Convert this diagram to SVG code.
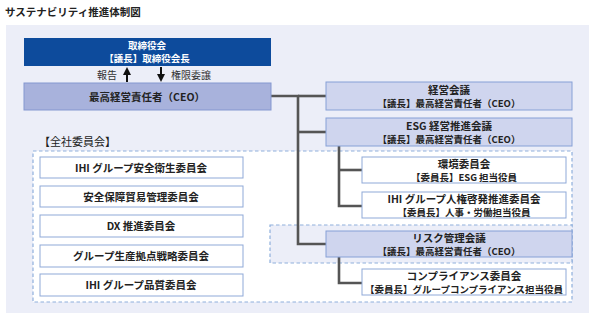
<svg xmlns="http://www.w3.org/2000/svg" width="593" height="317" viewBox="0 0 593 317">
<style>
text{font-family:"Noto Sans CJK JP","Noto Sans",sans-serif;fill:#222;text-anchor:middle}
.t{font-size:10.5px;font-weight:bold}
.s{font-size:9.5px;font-weight:bold}
.mt{fill:#cfd5ee;stroke:#86a0d6;stroke-width:1}
.wb{fill:#fff;stroke:#8fa9d8;stroke-width:1}
.dash{fill:none;stroke:#8fb0dc;stroke-width:1.2;stroke-dasharray:3.5 2.5}
.ln{fill:none;stroke:#555;stroke-width:2.6}
</style>
<defs>
<marker id="ah" markerWidth="8" markerHeight="8" refX="4" refY="4" orient="auto" markerUnits="userSpaceOnUse">
<path d="M0,0 L8,4 L0,8 Z" fill="#111"/>
</marker>
</defs>
<rect width="593" height="317" fill="#fff"/>
<text x="5" y="16" style="font-size:10.5px;font-weight:bold;text-anchor:start">サステナビリティ推進体制図</text>
<rect x="6" y="25" width="583" height="288" fill="#eceef8"/>
<rect x="33" y="151" width="539" height="151" class="dash" style="fill:#fff"/>
<rect x="270" y="225" width="302" height="38" class="dash" style="fill:#eceef8"/>
<g id="connectors">
<polyline class="ln" points="271,96 298,96 298,244 326,244"/>
<line class="ln" x1="298" y1="96" x2="326" y2="96"/>
<line class="ln" x1="298" y1="132" x2="326" y2="132"/>
<polyline class="ln" points="339,146 339,206 362,206"/>
<line class="ln" x1="339" y1="170" x2="362" y2="170"/>
<polyline class="ln" points="339,257 339,283 362,283"/>
<line x1="127" y1="82" x2="127" y2="71" stroke="#111" stroke-width="2" marker-end="url(#ah)"/>
<line x1="161" y1="67" x2="161" y2="78" stroke="#111" stroke-width="2" marker-end="url(#ah)"/>
</g>
<g id="board">
<rect x="24" y="38" width="247" height="28" fill="#0d4b9c"/>
<text x="147" y="48.5" style="font-size:9.5px;font-weight:bold;fill:#fff">取締役会</text>
<text x="147" y="61.5" style="font-size:9.5px;font-weight:bold;fill:#fff">【議長】取締役会長</text>
</g>
<text x="107" y="79" style="font-size:10px;fill:#333">報告</text>
<text x="191" y="79" style="font-size:10px;fill:#333">権限委譲</text>
<g id="ceo">
<rect x="24" y="83" width="247" height="27" fill="#a8b2dc" stroke="#8497d0"/>
<text x="147" y="100.5" style="font-size:10.5px;font-weight:bold">最高経営責任者（CEO）</text>
</g>
<g id="keiei">
<rect x="326" y="82" width="246" height="28" class="mt"/>
<text x="449" y="93.5" class="t">経営会議</text>
<text x="449" y="106.5" class="s">【議長】最高経営責任者（CEO）</text>
</g>
<g id="esg">
<rect x="326" y="118" width="246" height="28" class="mt"/>
<text x="449" y="129.5" class="t">ESG 経営推進会議</text>
<text x="449" y="142.5" class="s">【議長】最高経営責任者（CEO）</text>
</g>
<g id="kankyo">
<rect x="362" y="157" width="204" height="26" class="wb"/>
<text x="464" y="168" class="t">環境委員会</text>
<text x="464" y="181" class="s">【委員長】ESG 担当役員</text>
</g>
<g id="jinken">
<rect x="362" y="192" width="204" height="26" class="wb"/>
<text x="464" y="203" class="t">IHI グループ人権啓発推進委員会</text>
<text x="464" y="216" class="s">【委員長】人事・労働担当役員</text>
</g>
<g id="risk">
<rect x="326" y="231" width="246" height="26" class="mt"/>
<text x="449" y="242" class="t">リスク管理会議</text>
<text x="449" y="255" class="s">【議長】最高経営責任者（CEO）</text>
</g>
<g id="compliance">
<rect x="362" y="269" width="204" height="26" class="wb"/>
<text x="464" y="280" class="t">コンプライアンス委員会</text>
<text x="464" y="293" class="s">【委員長】グループコンプライアンス担当役員</text>
</g>
<text x="39" y="146" style="font-size:11px;text-anchor:start">【全社委員会】</text>
<g id="c1"><rect x="40" y="157" width="203" height="21" class="wb"/><text x="141" y="171.5" class="t">IHI グループ安全衛生委員会</text></g>
<g id="c2"><rect x="40" y="186" width="203" height="21" class="wb"/><text x="141" y="200.5" class="t">安全保障貿易管理委員会</text></g>
<g id="c3"><rect x="40" y="215" width="203" height="22" class="wb"/><text x="141" y="230" class="t">DX 推進委員会</text></g>
<g id="c4"><rect x="40" y="245" width="203" height="22" class="wb"/><text x="141" y="260" class="t">グループ生産拠点戦略委員会</text></g>
<g id="c5"><rect x="40" y="274" width="203" height="22" class="wb"/><text x="141" y="289" class="t">IHI グループ品質委員会</text></g>
</svg>
